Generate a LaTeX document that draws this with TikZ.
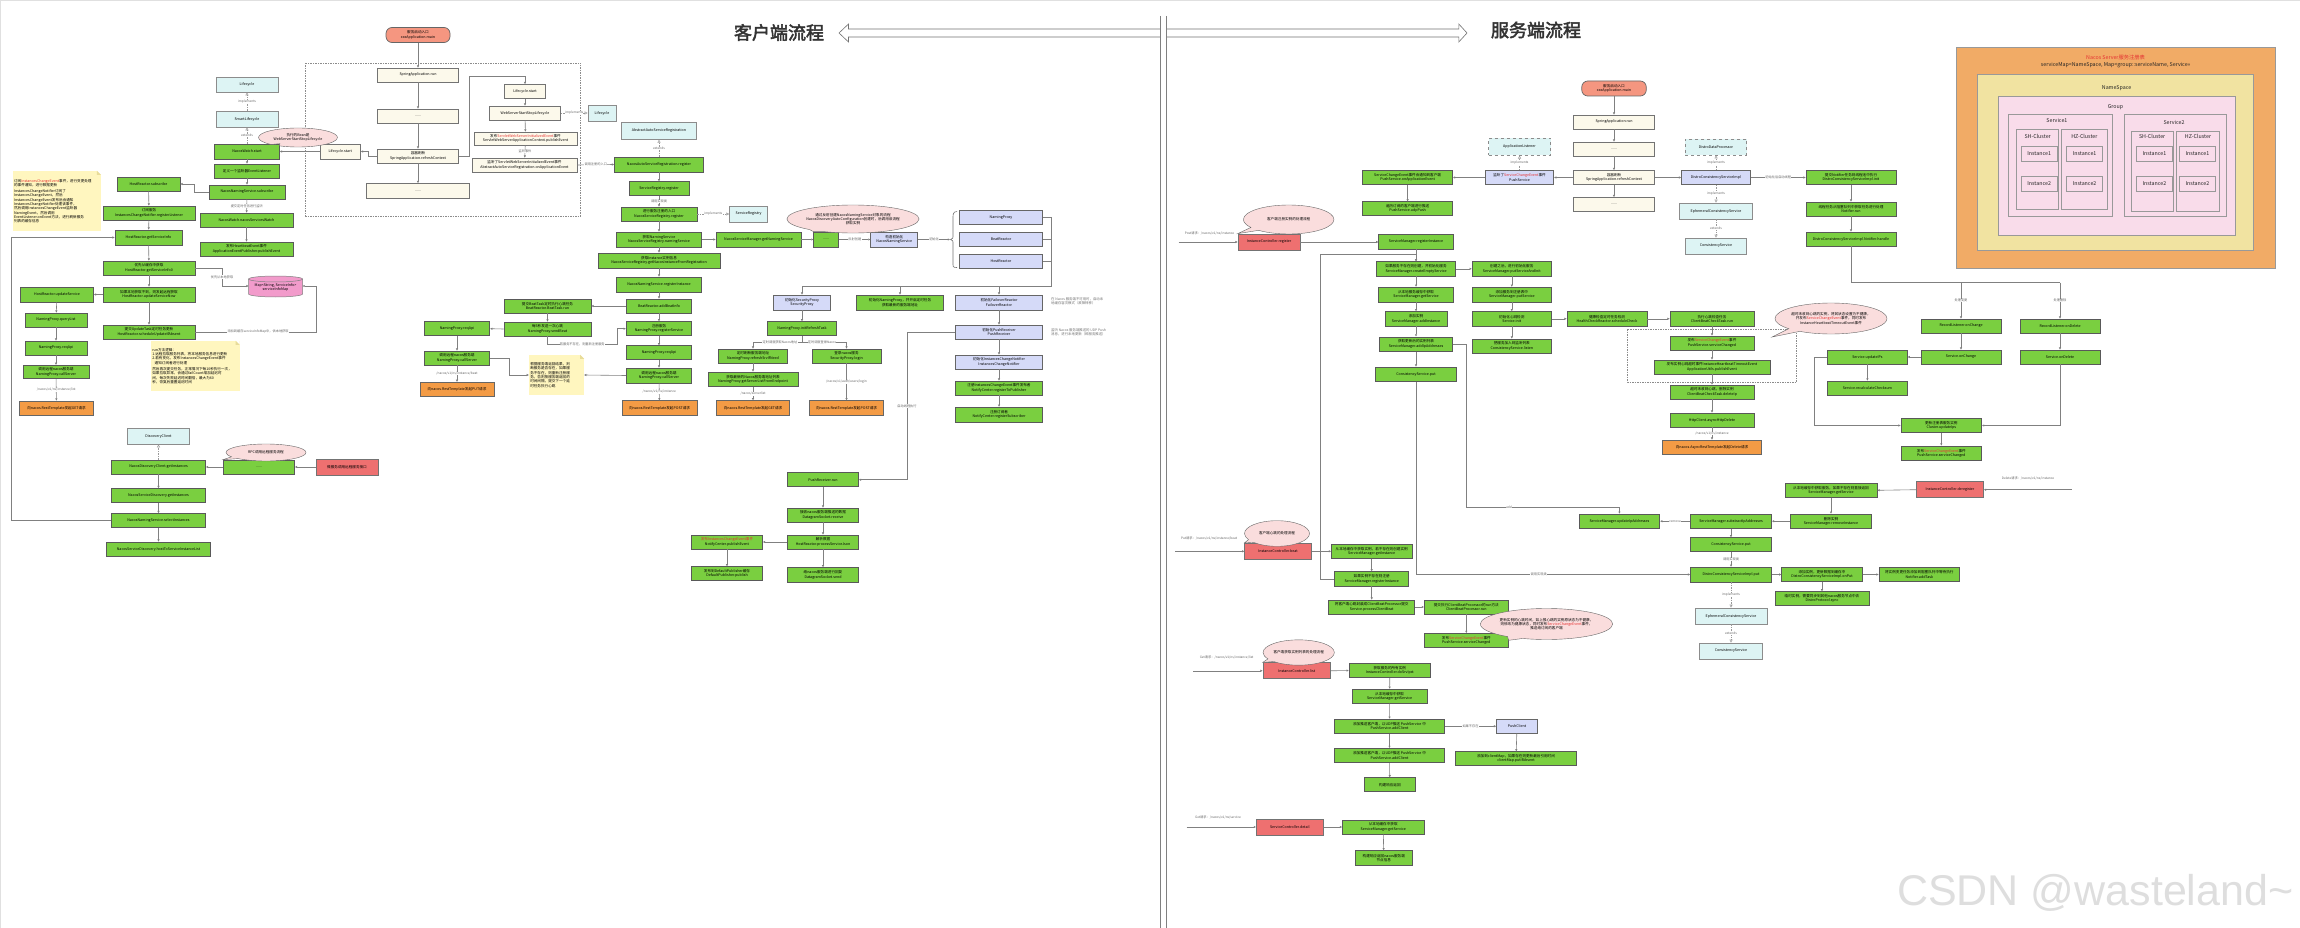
\documentclass[tikz,border=0pt]{standalone}
\usepackage{fontspec}
\setmainfont{Noto Sans CJK SC}
\newfontfamily\titlefont[AutoFakeBold=2.5]{Noto Sans CJK SC}
\newfontfamily\wmfont{Liberation Sans}
\usetikzlibrary{arrows.meta,shapes.geometric,shapes.callouts,calc}
\definecolor{gfill}{HTML}{7ACF40}
\definecolor{creamf}{HTML}{FCF9EB}
\definecolor{cyanf}{HTML}{DDF4F4}
\definecolor{bluef}{HTML}{D5DAF8}
\definecolor{redf}{HTML}{EE7070}
\definecolor{orangef}{HTML}{F39B45}
\definecolor{salmonf}{HTML}{F59680}
\definecolor{pinkell}{HTML}{FADDDD}
\definecolor{notey}{HTML}{FFF6BF}
\definecolor{notefoldc}{HTML}{E8DC9A}
\definecolor{cylp}{HTML}{F29BCB}
\definecolor{regorange}{HTML}{F1AB66}
\definecolor{regyellow}{HTML}{F1E3A1}
\definecolor{regpink}{HTML}{F9DCEA}
\definecolor{redtxt}{HTML}{E53333}
\newcommand\bxfont{\fontsize{3.6}{4.3}\selectfont}
\newcommand\lblfont{\fontsize{3.2}{3.8}\selectfont}
\newcommand\regfont{\fontsize{5.3}{6.2}\selectfont}
\newcommand\redpart[1]{\textcolor{redtxt}{#1}}
\newcommand\nbox[7]{\node[#1,minimum width=#5pt,minimum height=#6pt] (#2) at (#3,#4) {#7};}
\newcommand\notefold[1]{%
  \fill[white] ($(#1.north east)+(-4,0)$) -- (#1.north east) -- ($(#1.north east)+(0,4)$) -- cycle;
  \fill[notefoldc] ($(#1.north east)+(-4,0)$) -- ($(#1.north east)+(-4,4)$) -- ($(#1.north east)+(0,4)$) -- cycle;}
\tikzset{
  bx/.style={draw=black!65, line width=0.7pt, inner sep=0.3pt, align=center, font=\bxfont, text=black},
  gb/.style={bx, fill=gfill},
  cb/.style={bx, fill=creamf, draw=black!55},
  yb/.style={bx, fill=cyanf, draw=black!45},
  yd/.style={yb, dashed},
  bb/.style={bx, fill=bluef, draw=black!60},
  rb/.style={bx, fill=redf, draw=black!55},
  ob/.style={bx, fill=orangef, draw=black!60},
  pill/.style={bx, fill=salmonf, rounded corners=6pt, draw=black!60},
  bubble/.style={ellipse callout, draw=black!60, line width=0.4pt, fill=pinkell, align=center, font=\bxfont, inner sep=0pt},
  ln/.style={draw=black!50, line width=0.6pt},
  arr/.style={ln, -{Triangle[length=2.2pt,width=2pt]}},
  impl/.style={draw=black!40, line width=0.5pt, dash pattern=on 1.5pt off 1pt, -{Triangle[open,length=3pt,width=3pt]}},
  lbl/.style={font=\lblfont, text=black!60, fill=white, inner sep=0.3pt},
  notebox/.style={fill=notey, inner sep=1.2pt, align=left, font=\bxfont, text=black},
  gnote/.style={font=\fontsize{3.4}{4.1}\selectfont, text=black!55, align=left, inner sep=0pt},
  regbox/.style={draw=black!40, line width=0.8pt},
  regtxt/.style={font=\regfont, text=black!85, inner sep=0pt},
}
\begin{document}
\begin{tikzpicture}[x=1pt,y=-1pt]
\useasboundingbox (0,0) rectangle (2300,928);
\fill[white] (0,0) rectangle (2300,928);
\draw[black!12, line width=1.2pt] (0.6,928) -- (0.6,0.6) -- (2300,0.6);

% ---------------- titles and divider ----------------
\node[font=\titlefont\bfseries\fontsize{18}{20}\selectfont, text=black!80] (tcl) at (779,32.5) {客户端流程};
\node[font=\titlefont\bfseries\fontsize{18}{20}\selectfont, text=black!80] (tsv) at (1536,30) {服务端流程};
\draw[black!55, fill=white, line width=0.6pt] (839,33) -- (848.5,24) -- (848.5,29) -- (1458.8,29) -- (1458.8,24) -- (1467,33) -- (1458.8,42) -- (1458.8,37) -- (848.5,37) -- (848.5,42) -- cycle;
\fill[white] (1160.3,16) rectangle (1166.5,928);
\draw[black!50, line width=0.6pt] (1160.3,16) -- (1160.3,928) (1166.5,16) -- (1166.5,928);

% ================= CLIENT =================
\draw[black!45, dash pattern=on 1.5pt off 1pt, line width=0.5pt] (305.5,63) rectangle (580.5,216);
\nbox{pill}{cstart}{418}{35}{64}{15}{服务启动入口\\xxxApplication.main}
\nbox{cb}{crun}{418}{75}{81}{14}{SpringApplication.run}
\nbox{cb}{cdots1}{418}{116}{81}{14}{......}
\nbox{cb}{crefresh}{418}{156}{81}{14}{容器刷新\\SpringApplication.refreshContext}
\nbox{cb}{cdots2}{418}{191}{103}{15}{......}
\nbox{cb}{csl}{340.2}{151.5}{40.5}{15}{Lifecycle.start}
\nbox{cb}{cls1}{525}{91.5}{41}{14}{Lifecycle.start}
\nbox{cb}{cws}{525}{113}{71}{14}{WebServerStartStopLifecycle}
\nbox{cb}{cpub}{525.5}{138.5}{103}{13}{发布\redpart{ServletWebServerInitializedEvent}事件\\ServletWebServerApplicationContext.publishEvent}
\nbox{cb}{clisten}{524.5}{165}{105}{14}{监听了ServletWebServerInitializedEvent事件\\AbstractAutoServiceRegistration.onApplicationEvent}
\nbox{yb}{ccl1}{602}{113}{28}{16}{Lifecycle}

\nbox{yb}{ccyl1}{247}{84.5}{62}{15}{Lifecycle}
\nbox{yb}{ccyl2}{247}{119}{62}{16}{SmartLifecycle}
\nbox{gb}{cnw}{247}{151.5}{65}{15}{NacosWatch.start}
\nbox{gb}{cdef}{247}{171}{65}{14}{定义一个监听器EventListener}
\nbox{gb}{csub}{247}{192}{76}{14}{NacosNamingService.subscribe}
\nbox{gb}{cnsw}{246.5}{220}{93}{14}{NacosWatch.nacosServicesWatch}
\nbox{gb}{chbe}{246.5}{249}{93}{14}{发布HeartbeatEvent事件\\ApplicationEventPublisher.publishEvent}
\node[bubble, minimum width=79pt, minimum height=19pt, callout absolute pointer={(cnw.north east)}] (cell2) at (298,137.5) {执行的Bean是\\WebServerStartStopLifecycle};

\nbox{gb}{chrs}{148.5}{184}{63}{14}{HostReactor.subscribe}
\nbox{gb}{creg}{149}{213}{92}{14}{订阅服务\\InstancesChangeNotifier.registerListener}
\nbox{gb}{cgsi}{148.5}{237.5}{67}{15}{HostReactor.getServiceInfo}
\nbox{gb}{cgsi0}{149}{268}{92}{14}{优先从缓存中获取\\HostReactor.getServiceInfo0}
\nbox{gb}{cusn}{149}{294.5}{92}{15}{如果本地获取不到，则发起远程获取\\HostReactor.updateServiceNow}
\nbox{gb}{cus}{57}{294.5}{73}{15}{HostReactor.updateService}
\nbox{gb}{cql}{56}{320}{62}{14}{NamingProxy.queryList}
\nbox{gb}{creq3}{56}{348}{62}{14}{NamingProxy.reqApi}
\nbox{gb}{ccs3}{56}{372}{66}{13.5}{调用远程nacos服务端\\NamingProxy.callServer}
\nbox{ob}{cget1}{56.5}{408}{74}{14}{向nacos.RestTemplate发起GET请求}
\nbox{gb}{csua}{149}{332}{92}{14}{提交UpdateTask定时任务更新\\HostReactor.scheduleUpdateIfAbsent}

\node[notebox, text width=85.5pt, minimum height=60pt] (cnote1) at (56.8,201) {订阅\redpart{InstancesChangeEvent}事件，进行变更处理\\的事件通知，进行数据更新\\[2pt]InstancesChangeNotifier订阅了\\InstancesChangeEvent，然后\\InstancesChangeEvent发布后会通知\\InstancesChangeNotifier处理该事件，\\然后调用InstancesChangeEvent监听器\\NamingEvent，然后调用\\EventListener.onEvent方法，进行刷新服务\\列表的缓存信息};
\notefold{cnote1}
\node[notebox, text width=86pt, minimum height=50pt] (cnote2) at (195.3,366) {run方法逻辑：\\1.远程拉取服务列表，将本地服务信息进行更新\\2.若有变化，发布InstancesChangeEvent事件\\\ \ 通知订阅者进行处理\\[2pt]然后再次提交任务，正常情况下每10秒执行一次，\\如果拉取异常，会通过failCount增加延迟时\\间，每次失败延迟时间翻倍，最大为60\\秒，恢复后重置延迟时间};
\notefold{cnote2}

% cylinder
\path[draw=black!50, fill=cylp, line width=0.5pt] (248.6,279) -- (248.6,294) arc[start angle=180, end angle=0, x radius=26.95, y radius=3] -- (302.5,279) arc[start angle=0, end angle=-180, x radius=26.95, y radius=3] -- cycle;
\draw[black!50, line width=0.5pt] (248.6,279) arc[start angle=180, end angle=0, x radius=26.95, y radius=3];
\node[font=\bxfont, align=center, inner sep=0pt, minimum width=54pt, minimum height=21pt] (ccyl) at (275.5,287.5) {Map<String, ServiceInfo>\\serviceInfoMap};

\nbox{yb}{cdc}{158.5}{436}{62.5}{16}{DiscoveryClient}
\nbox{gb}{cndc}{158.5}{467}{94}{14}{NacosDiscoveryClient.getInstances}
\nbox{gb}{cdots4}{259}{467}{71}{14}{......}
\nbox{rb}{cred1}{347}{467}{62}{16}{微服务调用远程服务接口}
\nbox{gb}{cnsd}{158.5}{495.5}{94}{14}{NacosServiceDiscovery.getInstances}
\nbox{gb}{cnsi}{158.5}{520.5}{94}{14}{NacosNamingService.selectInstances}
\nbox{gb}{chts}{158.5}{549}{104}{14}{NacosServiceDiscovery.hostToServiceInstanceList}
\node[bubble, minimum width=80pt, minimum height=17pt, callout absolute pointer={(cdots4.north west)}] (cell3) at (266,452.5) {RPC调用远程服务流程};

% middle column
\nbox{yb}{cabs}{659}{131}{74.5}{16.5}{AbstractAutoServiceRegistration}
\nbox{gb}{cnasr}{659}{164.5}{89}{15}{NacosAutoServiceRegistration.register}
\nbox{gb}{csrr}{659}{188.7}{60}{14}{ServiceRegistry.register}
\nbox{gb}{cnsr}{659}{214}{76}{14}{进行服务注册的入口\\NacosServiceRegistry.register}
\nbox{yb}{csr}{748.6}{214}{38}{16}{ServiceRegistry}
\nbox{gb}{cns}{659}{239.5}{85}{15}{获取NamingService\\NacosServiceRegistry.namingService}
\nbox{gb}{cnsm}{758.5}{239.5}{85}{15}{NacosServiceManager.getNamingService}
\nbox{gb}{cdots3}{826.3}{239.5}{25}{15}{......}
\nbox{bb}{cnns}{894.3}{239.5}{47}{15}{构造初始化\\NacosNamingService}
\node[bubble, minimum width=120pt, minimum height=28pt, callout absolute pointer={(cdots3.north west)}] (cell1) at (853,219) {通过反射创建NacosNamingService对象的流程\\NacosDiscoveryAutoConfiguration创建时，后调用该流程\\获取实例};
\nbox{bb}{cnp}{1001}{217.5}{83}{13.5}{NamingProxy}
\nbox{bb}{cbr}{1001}{239}{83}{14}{BeatReactor}
\nbox{bb}{chr}{1001}{261}{83}{14}{HostReactor}
\nbox{bb}{csp}{802}{302.5}{57.6}{15}{初始化SecurityProxy\\SecurityProxy}
\nbox{gb}{cinp}{900}{302.5}{86.5}{15}{初始化NamingProxy，并开启定时任务\\获取最新的服务端地址}
\nbox{bb}{cfr}{999}{302.5}{86.5}{15}{初始化FailoverReactor\\FailoverReactor}
\node[gnote, anchor=west] (cgn1) at (1051,301.5) {在 Nacos 服务端不可用时，启动本\\地缓存容灾模式（故障转移）};
\nbox{gb}{cnir}{659}{260.5}{122}{15}{获取Instance实例信息\\NacosServiceRegistry.getNacosInstanceFromRegistration}
\nbox{gb}{cnri}{659}{284.5}{85.5}{15}{NacosNamingService.registerInstance}
\nbox{gb}{cabi}{659}{306}{65}{14}{BeatReactor.addBeatInfo}
\nbox{gb}{cbta}{547.5}{306}{87}{14}{提交BeatTask定时执行心跳任务\\BeatReactor.BeatTask.run}
\nbox{gb}{cbtb}{547.5}{329}{87}{14}{每5秒发送一次心跳\\NamingProxy.sendBeat}
\nbox{gb}{cnpreq2}{457}{328.7}{65.5}{14}{NamingProxy.reqApi}
\nbox{gb}{ccs2}{457}{358}{65.5}{14}{调用远程nacos服务端\\NamingProxy.callServer}
\nbox{ob}{cput}{457}{389.5}{74}{14.5}{向nacos.RestTemplate发起PUT请求}
\node[notebox, text width=52.5pt, minimum height=40pt] (cnote3) at (556.5,375) {根据服务端返回结果，判\\断服务是否存在，如果服\\务不存在，则重新注册服\\务，否则按服务端返回的\\时间间隔，提交下一个延\\时任务执行心跳};
\notefold{cnote3}
\nbox{gb}{cregs}{659}{328.7}{65.6}{14}{注册服务\\NamingProxy.registerService}
\nbox{gb}{creq}{659}{352.5}{65.6}{13.5}{NamingProxy.reqApi}
\nbox{gb}{ccs1}{659}{375.5}{65.6}{15}{调用远程nacos服务端\\NamingProxy.callServer}
\nbox{ob}{cpost1}{659.5}{408}{75}{14.5}{向nacos.RestTemplate发起POST请求}
\nbox{gb}{cirt}{802}{328.7}{68.6}{14}{NamingProxy.initRefreshTask}
\nbox{gb}{crsn}{753}{356}{69}{14}{定时刷新服务端地址\\NamingProxy.refreshSrvIfNeed}
\nbox{gb}{cgsl}{753}{379.3}{90}{14.7}{获取最新的Nacos服务端地址列表\\NamingProxy.getServerListFromEndpoint}
\nbox{ob}{cget2}{753}{408}{73}{14.7}{向nacos.RestTemplate发起GET请求}
\nbox{gb}{clogin}{846.5}{356}{69}{14}{登录nacos服务\\SecurityProxy.login}
\nbox{ob}{cpost2}{846.5}{408}{74}{14.7}{向nacos.RestTemplate发起POST请求}
\nbox{bb}{cpr}{999}{332}{86.5}{14}{初始化PushReceiver\\PushReceiver}
\node[gnote, anchor=west] (cgn2) at (1051,332) {监听 Nacos 服务端推送的 UDP Push\\消息，进行本地更新（即服务推送）};
\nbox{bb}{cicn}{999}{362}{86.5}{14}{初始化InstancesChangeNotifier\\InstancesChangeNotifier}
\nbox{gb}{crtp}{999}{388}{86.5}{14}{注册InstancesChangeEvent事件发布者\\NotifyCenter.registerToPublisher}
\nbox{gb}{crs}{999}{414.5}{86.5}{14.7}{注册订阅者\\NotifyCenter.registerSubscriber}
\nbox{gb}{cprr}{823}{479.7}{71}{14}{PushReceiver.run}
\nbox{gb}{crecv}{823}{515}{71}{14}{接收nacos服务端推送的数据\\DatagramSocket.receive}
\nbox{gb}{cpsj}{823}{542}{71}{14}{解析数据\\HostReactor.processServiceJson}
\nbox{gb}{cpe}{727}{542}{71}{14}{\redpart{发布InstancesChangeEvent事件}\\NotifyCenter.publishEvent}
\nbox{gb}{cdp}{727}{573.7}{71.5}{14}{发布到DefaultPublisher缓存\\DefaultPublisher.publish}
\nbox{gb}{csend}{823}{575}{71}{14.7}{给nacos服务端进行回复\\DatagramSocket.send}

% client connectors
\draw[arr] (cstart) -- (crun);
\draw[arr] (crun) -- (cdots1);
\draw[arr] (cdots1) -- (crefresh);
\draw[arr] (crefresh) -- (cdots2);
\draw[arr] (crefresh.west) -- ++(-9,0) |- (csl.east);
\draw[arr] (csl.west) -- (cnw.east);
\draw[arr] (crefresh.east) -- (469.4,156) -- (469.4,76) -- (525,76) -- (cls1.north);
\draw[arr] (cls1) -- (cws);
\draw[arr] (cws) -- (cpub);
\draw[arr] (cpub) -- node[lbl]{监听事件} (clisten);
\draw[impl] (cws.east) -- node[lbl]{implements} (ccl1.west);
\draw[arr] (clisten.east) -- node[lbl]{调用注册的入口} (cnasr.west);
\draw[impl] (ccyl2) -- node[lbl]{implements} (ccyl1);
\draw[impl] (cnw) -- node[lbl]{extends} (ccyl2);
\draw[arr] (cnw) -- (cdef);
\draw[arr] (cdef) -- (csub);
\draw[arr] (csub) -- node[lbl]{提交定时任务进行监听} (cnsw);
\draw[arr] (cnsw) -- (chbe);
\draw[arr] (csub.west) -- ++(-14,0) |- (chrs.east);
\draw[arr] (chrs) -- (creg);
\draw[arr] (creg) -- (cgsi);
\draw[arr] (cgsi) -- (cgsi0);
\draw[arr] (cgsi0) -- (cusn);
\draw[arr] (cusn) -- (csua);
\draw[arr] (cgsi0.east) -- (222,268) -- node[lbl]{优先从本地获取} (222,286) -- (248.6,286);
\draw[arr] (cusn.west) -- (cus.east);
\draw[arr] (cus) -- (cql);
\draw[arr] (cql) -- (creq3);
\draw[arr] (creq3) -- (ccs3);
\draw[arr] (ccs3) -- node[lbl]{/nacos/v1/ns/instance/list} (cget1);
\draw[arr] (csua.east) -- node[lbl, pos=0.52]{添加到缓存serviceInfoMap中，供本地获取} (316,332) -- (316,286) -- (302.5,286);
\draw[arr] (cnsi.west) -- (11.7,520.5) -- (11.7,237.5) -- (cgsi.west);
\draw[impl] (cndc) -- (cdc);
\draw[arr] (cdots4.west) -- (cndc.east);
\draw[arr] (cred1.west) -- (cdots4.east);
\draw[arr] (cndc) -- (cnsd);
\draw[arr] (cnsd) -- (cnsi);
\draw[arr] (cnsi) -- (chts);

\draw[impl] (cnasr) -- node[lbl]{extends} (cabs);
\draw[arr] (cnasr) -- (csrr);
\draw[arr] (csrr) -- node[lbl]{调用实现类} (cnsr);
\draw[impl] (cnsr.east) -- node[lbl]{implements} (csr.west);
\draw[arr] (cnsr) -- (cns);
\draw[arr] (cns) -- (cnir);
\draw[arr] (cnir) -- (cnri);
\draw[arr] (cnri) -- (cabi);
\draw[arr] (cabi) -- (cregs);
\draw[arr] (cns.east) -- (cnsm.west);
\draw[arr] (cnsm.east) -- (cdots3.west);
\draw[arr] (cdots3.east) -- node[lbl]{反射创建} (cnns.west);
\coordinate (brk) at (950,239.5);
\draw[arr] (cnns.east) -- node[lbl]{初始化} (brk);
\draw[black!55, line width=0.6pt] (957,211.5) .. controls (952.5,211.5) and (953,215) .. (953,220) -- (953,235) .. controls (953,238.5) .. (950.5,239.5) .. controls (953,240.5) .. (953,244) -- (953,262) .. controls (953,267) and (952.5,267.5) .. (957,267.5);
\coordinate (bus) at (1051.7,286);
\draw[ln] (cnp.east) -- (1051.7,217.5) -- (bus) -- (csp.north |- bus);
\draw[ln] (cbr.east) -- (1051.7,239);
\draw[ln] (chr.east) -- (1051.7,261);
\draw[arr] (csp.north |- bus) -- (csp.north);
\draw[arr] (cinp.north |- bus) -- (cinp.north);
\draw[arr] (cfr.north |- bus) -- (cfr.north);
\draw[arr] (cabi.west) -- (cbta.east);
\draw[arr] (cbta) -- (cbtb);
\draw[arr] (cbtb.west) -- (cnpreq2.east);
\draw[arr] (cnpreq2) -- (ccs2);
\draw[arr] (ccs2) -- node[lbl]{/nacos/v1/ns/instance/beat} (cput);
\draw[arr] (ccs2.east) -- (509.7,358) |- (cnote3.west);
\draw[arr] (ccs1.west) -- (cnote3.east);
\draw[arr] (cbtb.south) -- (547.5,344) -- node[lbl]{若服务不存在，则重新注册服务} (617,344) |- (cregs.west);
\draw[arr] (cregs) -- (creq);
\draw[arr] (creq) -- (ccs1);
\draw[arr] (ccs1) -- node[lbl]{/nacos/v1/ns/instance} (cpost1);
\draw[arr] (csp) -- (cirt);
\coordinate (cirtj) at (802,342);
\draw[ln] (cirt.south) -- (cirtj);
\draw[ln] (crsn.north |- cirtj) -- (clogin.north |- cirtj);
\draw[arr] (crsn.north |- cirtj) -- (crsn.north);
\draw[arr] (clogin.north |- cirtj) -- (clogin.north);
\node[lbl] (lb1) at (780,342) {定时调度获取Nacos地址};
\node[lbl] (lb2) at (822,342) {定时调度登录Nacos};
\draw[arr] (crsn) -- (cgsl);
\draw[arr] (cgsl) -- node[lbl]{/nacos/serverlist} (cget2);
\draw[arr] (clogin) -- node[lbl]{/nacos/v1/auth/users/login} (cpost2);
\draw[arr] (cfr) -- (cpr);
\draw[arr] (cpr) -- (cicn);
\draw[arr] (cicn) -- (crtp);
\draw[arr] (crtp) -- (crs);
\draw[arr] (cpr.west) -- (907,332) -- node[lbl]{启动线程执行} (907,479.7) -- (cprr.east);
\draw[arr] (cprr) -- (crecv);
\draw[arr] (crecv) -- (cpsj);
\draw[arr] (cpsj) -- (csend);
\draw[arr] (cpsj.west) -- (cpe.east);
\draw[arr] (cpe) -- (cdp);

% ================= SERVER =================
\nbox{pill}{sstart}{1614}{88.5}{64.5}{15}{服务启动入口\\xxxApplication.main}
\nbox{cb}{srun}{1614}{122}{80.7}{14}{SpringApplication.run}
\nbox{cb}{sdots1}{1614}{149}{80.7}{14}{......}
\nbox{cb}{srefresh}{1614}{177.5}{80.7}{14}{容器刷新\\SpringApplication.refreshContext}
\nbox{cb}{sdots2}{1614}{204.5}{80.7}{14}{......}
\nbox{yd}{sal}{1519.5}{146.7}{62}{17}{ApplicationListener}
\nbox{bb}{sps}{1519.5}{177.5}{68.5}{14}{监听了\redpart{ServiceChangeEvent}事件\\PushService}
\nbox{gb}{soae}{1407.6}{177.5}{90}{14}{ServiceChangeEvent事件会通知到客户端\\PushService.onApplicationEvent}
\nbox{gb}{sudp}{1407.6}{208.7}{90}{14}{遍历订阅的客户端进行推送\\PushService.udpPush}
\nbox{yd}{sddp}{1716}{147}{61.5}{16}{DistroDataProcessor}
\nbox{bb}{sdcsi}{1716}{177.5}{69}{14}{DistroConsistencyServiceImpl}
\nbox{yb}{secs}{1716}{211}{73}{16}{EphemeralConsistencyService}
\nbox{yb}{scs}{1716}{246}{61.5}{16}{ConsistencyService}
\nbox{gb}{sinit}{1851}{177.5}{90}{14}{提交Notifier任务到线程池中执行\\DistroConsistencyServiceImpl.init}
\nbox{gb}{snr}{1851}{209}{90}{14}{线程任务从阻塞队列中获取任务进行处理\\Notifier.run}
\nbox{gb}{snh}{1851}{239}{90}{14}{DistroConsistencyServiceImpl.Notifier.handle}
\nbox{gb}{sonc}{1961}{326}{80}{14}{RecordListener.onChange}
\nbox{gb}{sond}{2060}{326}{80}{14}{RecordListener.onDelete}
\nbox{gb}{supd}{1867.4}{357}{79.6}{14}{Service.updateIPs}
\nbox{gb}{ssonc}{1961}{357}{80}{14}{Service.onChange}
\nbox{gb}{ssond}{2060}{357}{80}{14}{Service.onDelete}
\nbox{gb}{srcc}{1867.4}{388}{79.6}{14}{Service.recalculateChecksum}
\nbox{gb}{scui}{1941.3}{425.5}{80.7}{14}{更新注册表服务实例\\Cluster.updateIps}
\nbox{gb}{sscd}{1941.3}{453.3}{80.7}{14.7}{发布\redpart{ServiceChangeEvent}事件\\PushService.serviceChanged}

\node[lbl] (slb1) at (2028,478.3) {Delete请求：/nacos/v1/ns/instance};
\coordinate (sdin) at (2071.5,489.7);
\nbox{rb}{sdereg}{1950}{489.7}{67}{16}{InstanceController.deregister}
\nbox{gb}{sgs3}{1831}{490.3}{92}{14}{从本地缓存中获取服务，如果不存在则直接返回\\ServiceManager.getService}
\nbox{gb}{srmi}{1831}{521.2}{81.5}{14.3}{删除实例\\ServiceManager.removeInstance}
\nbox{gb}{ssub}{1731}{521.2}{81}{14}{ServiceManager.substractIpAddresses}
\nbox{gb}{supa}{1619.4}{521.2}{80.7}{14.3}{ServiceManager.updateIpAddresses}
\nbox{gb}{scsp2}{1731}{544.7}{81}{14}{ConsistencyService.put}
\nbox{gb}{sdcp}{1731}{574.5}{81}{14.7}{DistroConsistencyServiceImpl.put}
\nbox{yb}{secs2}{1731}{616}{72}{16}{EphemeralConsistencyService}
\nbox{yb}{scs2}{1731}{651}{62.7}{16}{ConsistencyService}
\nbox{gb}{sonput}{1822}{574.5}{80.5}{14.4}{添加实例，更新数据到缓存中\\DistroConsistencyServiceImpl.onPut}
\nbox{gb}{sadd}{1919.3}{574.5}{80.7}{14.4}{将实例变更任务添加到阻塞队列中等待执行\\Notifier.addTask}
\nbox{gb}{ssync}{1822}{598.7}{93.7}{14}{临时实例，需要同步到其他nacos服务节点中去\\DistroProtocol.sync}

% register flow
\node[lbl] (slb2) at (1209.5,233) {Post请求：/nacos/v1/ns/instance};
\coordinate (srin) at (1178.6,242);
\nbox{rb}{sreg}{1269}{242}{62}{16}{InstanceController.register}
\node[bubble, minimum width=90.5pt, minimum height=29pt, callout absolute pointer={(sreg.north west)}] (sell1) at (1288.7,219.5) {客户端注册实例的处理流程};
\nbox{gb}{sri}{1416}{242}{74.5}{14.3}{ServiceManager.registerInstance}
\nbox{gb}{sces}{1416}{268.8}{79}{14.3}{如果服务不存在则创建，并初始化服务\\ServiceManager.createEmptyService}
\nbox{gb}{spsi}{1511.8}{268.8}{79.5}{14.3}{创建之后，进行初始化服务\\ServiceManager.putServiceAndInit}
\nbox{gb}{sgs1}{1416}{294.5}{74.5}{14.7}{从本地服务缓存中获取\\ServiceManager.getService}
\nbox{gb}{sput}{1511.8}{294.5}{79.5}{14.7}{添加服务到注册表中\\ServiceManager.putService}
\nbox{gb}{sai}{1416}{318.8}{62}{14.3}{添加实例\\ServiceManager.addInstance}
\nbox{gb}{ssi}{1511.8}{318.8}{79.5}{14.3}{初始化心跳检测\\Service.init}
\nbox{gb}{shcr}{1607}{318.8}{80}{14.3}{健康检查定时任务检测\\HealthCheckReactor.scheduleCheck}
\nbox{gb}{scbct}{1712}{318.8}{84}{14.3}{执行心跳检查任务\\ClientBeatCheckTask.run}
\nbox{gb}{slisten}{1511.8}{346}{79.5}{14}{把服务加入到监听列表\\ConsistencyService.listen}
\nbox{gb}{saia}{1416}{344}{72.5}{14.3}{获取更新后的实例列表\\ServiceManager.addIpAddresses}
\nbox{gb}{scsp}{1416}{374.3}{80.7}{14.7}{ConsistencyService.put}
\draw[black!45, dash pattern=on 1.5pt off 1pt, line width=0.5pt] (1627.5,329) rectangle (1796.5,382);
\nbox{gb}{sscd2}{1712}{343}{84}{14}{发布\redpart{ServiceChangeEvent}事件\\PushService.serviceChanged}
\nbox{gb}{shte}{1712}{367}{116}{14}{发布实例心跳超时事件InstanceHeartbeatTimeoutEvent\\ApplicationUtils.publishEvent}
\nbox{gb}{sdip}{1712}{392}{84}{14}{超时未收到心跳，删除实例\\ClientBeatCheckTask.deleteIp}
\nbox{gb}{sahd}{1712}{420}{84}{14}{HttpClient.asyncHttpDelete}
\nbox{ob}{sdel}{1712}{447}{98.7}{14}{向nacos.AsyncRestTemplate发起Delete请求}
\node[bubble, minimum width=108pt, minimum height=31pt, callout absolute pointer={(1772,337)}] (sell2) at (1831,318.5) {超时未收到心跳的实例，将其状态设置为不健康，\\并发布\redpart{ServiceChangeEvent}事件，同时发布\\InstanceHeartbeatTimeoutEvent事件};

% beat flow
\node[lbl] (slb3) at (1209,538.3) {Put请求：/nacos/v1/ns/instance/beat};
\coordinate (sbin) at (1175,551.3);
\nbox{rb}{sbeat}{1278}{551.3}{66.7}{16}{InstanceController.beat}
\node[bubble, minimum width=65pt, minimum height=25.6pt, callout absolute pointer={(sbeat.north west)}] (sell3) at (1277,533.5) {客户端心跳的处理流程};
\nbox{gb}{sgi}{1371.7}{551.3}{80.7}{14}{从本地缓存中获取实例，若不存在则创建实例\\ServiceManager.getInstance}
\nbox{gb}{sri2}{1371.7}{578.8}{74}{14.3}{如果实例不存在则注册\\ServiceManager.registerInstance}
\nbox{gb}{spcb}{1371.7}{607}{86}{14}{将客户端心跳封装成ClientBeatProcessor提交\\Service.processClientBeat}
\nbox{gb}{scbp}{1466.3}{607}{84}{14}{提交执行ClientBeatProcessor的run方法\\ClientBeatProcessor.run}
\nbox{gb}{sscd3}{1466.3}{640.3}{84}{14}{发布\redpart{ServiceChangeEvent}事件\\PushService.serviceChanged}
\node[bubble, minimum width=107pt, minimum height=31pt, callout absolute pointer={(sscd3.east)}] (sell4) at (1546.5,624) {更新实例的心跳时间，如上报心跳的实例原状态为不健康，\\则修改为健康状态，同时发布\redpart{ServiceChangeEvent}事件，\\推送给订阅的客户端};

% list flow
\node[lbl] (slb4) at (1226.6,657.7) {Get请求：/nacos/v1/ns/instance/list};
\coordinate (slin) at (1193,670.8);
\nbox{rb}{slist}{1296.7}{670.8}{67.4}{16}{InstanceController.list}
\node[bubble, minimum width=64pt, minimum height=25.3pt, callout absolute pointer={(slist.north west)}] (sell5) at (1298.7,652.5) {客户端获取实例列表的处理流程};
\nbox{gb}{sdsi}{1389.8}{670.5}{81.4}{14.4}{获取服务的所有实例\\InstanceController.doSrvIpxt}
\nbox{gb}{sgs4}{1389.6}{696.2}{74.5}{14.3}{从本地缓存中获取\\ServiceManager.getService}
\nbox{gb}{sac}{1389.5}{726.2}{110}{14.3}{添加推送客户端，以UDP推送 PushService 中\\PushService.addClient}
\nbox{gb}{sac2}{1389.5}{755.5}{110}{14.4}{添加推送客户端，以UDP推送 PushService 中\\PushService.addClient}
\nbox{gb}{sresp}{1389.8}{784.7}{50.6}{14}{构建响应返回}
\nbox{bb}{spc}{1517}{726.2}{41}{14.3}{PushClient}
\nbox{gb}{spia}{1516}{758.7}{121}{14}{添加到clientMap，如果存在则更新最后引用时间\\clientMap.putIfAbsent}

% service flow
\node[lbl] (slb5) at (1218,817.3) {Get请求：/nacos/v1/ns/service};
\coordinate (ssin) at (1186.7,827);
\nbox{rb}{ssc}{1289.8}{827}{67}{16}{ServiceController.detail}
\nbox{gb}{sgs5}{1383.2}{827}{81.4}{14}{从本地缓存中获取\\ServiceManager.getService}
\nbox{gb}{sresp2}{1383.8}{857.8}{56.8}{14.3}{构建响应返回nacos服务端\\节点信息}

% server connectors
\draw[arr] (sstart) -- (srun);
\draw[arr] (srun) -- (sdots1);
\draw[arr] (sdots1) -- (srefresh);
\draw[arr] (srefresh) -- (sdots2);
\draw[impl] (sps) -- node[lbl]{implements} (sal);
\draw[arr] (srefresh.west) -- (sps.east);
\draw[arr] (sps.west) -- (soae.east);
\draw[arr] (soae) -- (sudp);
\draw[arr] (srefresh.east) -- (sdcsi.west);
\draw[impl] (sdcsi) -- node[lbl]{implements} (sddp);
\draw[impl] (sdcsi) -- node[lbl]{implements} (secs);
\draw[impl] (secs) -- node[lbl]{extends} (scs);
\draw[arr] (sdcsi.east) -- node[lbl]{初始化后启动线程} (sinit.west);
\draw[arr] (sinit) -- (snr);
\draw[arr] (snr) -- (snh);
\coordinate (snhj) at (1851,282.7);
\draw[ln] (snh.south) -- (snhj) -- (sond.north |- snhj);
\draw[arr] (sonc.north |- snhj) -- node[lbl]{处理变更} (sonc.north);
\draw[arr] (sond.north |- snhj) -- node[lbl]{处理删除} (sond.north);
\draw[arr] (sonc) -- (ssonc);
\draw[arr] (sond) -- (ssond);
\draw[arr] (ssonc.west) -- (supd.east);
\draw[arr] (supd) -- (srcc);
\draw[arr] (supd.west) -- (1814,357) |- (scui.west);
\draw[arr] (ssond.south) |- (scui.east);
\draw[arr] (scui) -- (sscd);

\draw[arr] (srin) -- (sreg.west);
\draw[arr] (sreg.east) -- (sri.west);
\draw[arr] (sri) -- (sces);
\draw[arr] (sces.east) -- (spsi.west);
\draw[arr] (sces) -- (sgs1);
\draw[arr] (sgs1) -- (sai);
\draw[arr] (sai) -- (saia);
\draw[arr] (saia) -- (scsp);
\draw[arr] (spsi) -- (sput);
\draw[arr] (sput) -- (ssi);
\draw[arr] (ssi) -- (slisten);
\draw[arr] (ssi.east) -- (shcr.west);
\draw[arr] (shcr.east) -- (scbct.west);
\draw[arr] (scbct) -- (sscd2);
\draw[arr] (sscd2) -- (shte);
\draw[arr] (shte) -- (sdip);
\draw[arr] (sdip) -- (sahd);
\draw[arr] (sahd) -- node[lbl]{/nacos/v1/ns/instance} (sdel);
\draw[arr] (saia.east) -- (1466,344) -- (1466,507.7) -- (1619.4,507.7) -- (supa.north);
\node[lbl] (slb6) at (1509,507.7) {add};
\draw[arr] (scsp.south) -- (1416,574.5) -- (sdcp.west);
\node[lbl] (slb7) at (1538.7,574.5) {调用实现类};

\draw[arr] (sdin) -- (sdereg.east);
\draw[arr] (sdereg.west) -- (sgs3.east);
\draw[arr] (sgs3) -- (srmi);
\draw[arr] (srmi.west) -- (ssub.east);
\draw[arr] (ssub.west) -- node[lbl]{remove} (supa.east);
\draw[arr] (ssub) -- (scsp2);
\draw[arr] (scsp2) -- node[lbl]{调用实现类} (sdcp);
\draw[arr] (sdcp.east) -- (sonput.west);
\draw[arr] (sonput.east) -- (sadd.west);
\draw[arr] (sonput) -- (ssync);
\draw[impl] (sdcp) -- node[lbl]{implements} (secs2);
\draw[impl] (secs2) -- node[lbl]{extends} (scs2);

\draw[arr] (sbin) -- (sbeat.west);
\draw[arr] (sbeat.east) -- (sgi.west);
\draw[arr] (sgi) -- (sri2);
\draw[arr] (sri2) -- (spcb);
\draw[arr] (spcb.east) -- (scbp.west);
\draw[arr] (scbp) -- (sscd3);
\draw[arr] (sri2.west) -- (1319.8,578.8) -- (1319.8,254) -- (1416,254) -- (sces.north);

\draw[arr] (slin) -- (slist.west);
\draw[arr] (slist.east) -- (sdsi.west);
\draw[arr] (sdsi) -- (sgs4);
\draw[arr] (sgs4) -- (sac);
\draw[arr] (sac) -- (sac2);
\draw[arr] (sac2) -- (sresp);
\draw[arr] (sac.east) -- node[lbl]{如果不存在} (spc.west);
\draw[arr] (spc) -- (spia);

\draw[arr] (ssin) -- (ssc.west);
\draw[arr] (ssc.east) -- (sgs5.west);
\draw[arr] (sgs5) -- (sresp2);

% ================= registry =================
\node[regbox, fill=regorange, minimum width=318.3pt, minimum height=220.6pt] (reg) at (2115.85,158) {};
\node[regtxt, text=redtxt] (regt1) at (2115.6,57.7) {Nacos Server服务注册表};
\node[regtxt] (regt2) at (2115.6,65.5) {serviceMap<NameSpace, Map<group::serviceName, Service>>};
\node[regbox, fill=regyellow, minimum width=276.5pt, minimum height=176.4pt] (regns) at (2115.55,162.5) {};
\node[regtxt] (regnst) at (2116.6,87.7) {NameSpace};
\node[regbox, fill=regpink, minimum width=237.5pt, minimum height=139.3pt] (reggrp) at (2116.75,165.65) {};
\node[regtxt] (reggt) at (2115.5,106.7) {Group};
\node[regbox, minimum width=104.6pt, minimum height=101.7pt] (regs1) at (2060.3,165.15) {};
\node[regtxt] (regs1t) at (2056.9,120.7) {Service1};
\node[regbox, minimum width=102pt, minimum height=101.7pt] (regs2) at (2175.7,165.15) {};
\node[regtxt] (regs2t) at (2174,122.7) {Service2};
\node[regbox, line width=0.6pt, minimum width=42.2pt, minimum height=80pt] (c11) at (2037.6,169.3) {};
\node[regbox, line width=0.6pt, minimum width=46.2pt, minimum height=80pt] (c12) at (2084.4,169.3) {};
\node[regbox, line width=0.6pt, minimum width=41.7pt, minimum height=80pt] (c21) at (2152.15,171.7) {};
\node[regbox, line width=0.6pt, minimum width=42.5pt, minimum height=80pt] (c22) at (2198,171.7) {};
\node[regtxt] (c11t) at (2037.6,136.7) {SH-Cluster};
\node[regtxt] (c12t) at (2084.4,136.7) {HZ-Cluster};
\node[regtxt] (c21t) at (2152.15,136.7) {SH-Cluster};
\node[regtxt] (c22t) at (2198,136.7) {HZ-Cluster};
\foreach \nm/\cx in {a/2039.1,b/2084.55,c/2154.4,d/2197.5}{
  \node[regbox, line width=0.6pt, minimum width=35.8pt, minimum height=15.7pt, regtxt] (i\nm1) at (\cx,153.85) {Instance1};
  \node[regbox, line width=0.6pt, minimum width=35.8pt, minimum height=15.7pt, regtxt] (i\nm2) at (\cx,183.85) {Instance2};
}

% watermark
\node[font=\wmfont\fontsize{43}{43}\selectfont, text=black!13, anchor=base west, inner sep=0pt] (wm) at (1897,905) {CSDN @wasteland\textasciitilde};
\end{tikzpicture}
\end{document}
